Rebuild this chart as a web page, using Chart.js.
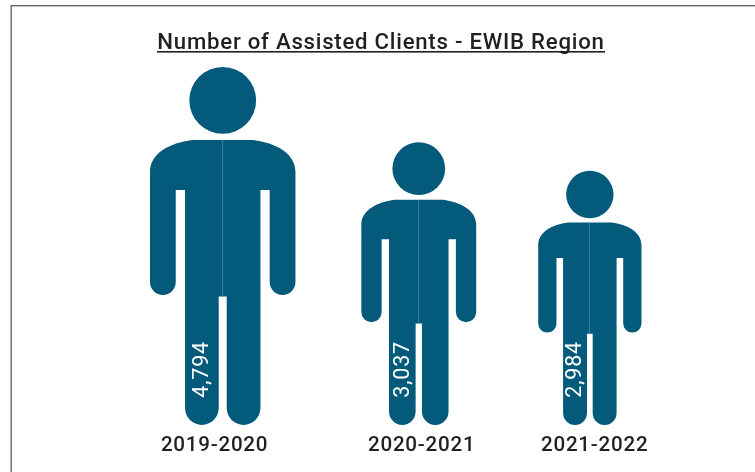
<!DOCTYPE html>
<html>
<head>
<meta charset="utf-8">
<style>html,body{margin:0;padding:0;background:#fff;overflow:hidden}canvas{display:block}</style>
<script src="https://cdn.jsdelivr.net/npm/chart.js@4/dist/chart.umd.js"></script>
</head>
<body>
<canvas id="c" width="755" height="472"></canvas>
<script>
const chartTitle = 'Number of Assisted Clients - EWIB Region';
const periods = ['2019-2020', '2020-2021', '2021-2022'];
const assistedClients = [4794, 3037, 2984];
// The figures in the picture are not drawn to a strict value scale: relative size, largest = 100
const figureSizes = [100, 79, 71];
// Uneven horizontal layout, percent of plot width
const figureSlots = [28.84, 55.05, 77.92];
const periodSlots = [27.75, 55.44, 78.57];

const INK = '#045a7b', SEAM = '#3f8099', TEXT = '#231f20', FRAME = '#666666';
const FONT = 'Roboto';

class PersonBar extends Chart.BarElement {
  draw(ctx) {
    const { x, y, base } = this.getProps(['x', 'y', 'base']);
    const u = (base - y) / 358;           // figure drawn in a 358-unit tall design space
    const X = d => x + d * u, Y = d => y + d * u;
    ctx.save();
    ctx.fillStyle = this.options.backgroundColor;
    ctx.beginPath();
    ctx.arc(x, Y(33.4), 33.4 * u, 0, Math.PI * 2);
    ctx.fill();

    const armOut = 72.75, armIn = 47, legOut = 37.7, gap = 4;
    const armR = (armOut - armIn) / 2, legR = (legOut - gap) / 2;
    const armEnd = 228, legEnd = 358, holeTop = 123, crotch = 229.7, top = 73;
    ctx.beginPath();
    ctx.moveTo(X(-30.7), Y(top));
    ctx.lineTo(X(30.7), Y(top));
    ctx.bezierCurveTo(X(52.7), Y(top + 3), X(armOut), Y(top + 13), X(armOut), Y(top + 32));
    ctx.lineTo(X(armOut), Y(armEnd - armR));
    ctx.arc(X(armOut - armR), Y(armEnd - armR), armR * u, 0, Math.PI);
    ctx.lineTo(X(armIn), Y(holeTop));
    ctx.lineTo(X(legOut), Y(holeTop));
    ctx.lineTo(X(legOut), Y(legEnd - legR));
    ctx.arc(X(legOut - legR), Y(legEnd - legR), legR * u, 0, Math.PI);
    ctx.lineTo(X(gap), Y(crotch));
    ctx.lineTo(X(-gap), Y(crotch));
    ctx.lineTo(X(-gap), Y(legEnd - legR));
    ctx.arc(X(-legOut + legR), Y(legEnd - legR), legR * u, 0, Math.PI);
    ctx.lineTo(X(-legOut), Y(holeTop));
    ctx.lineTo(X(-armIn), Y(holeTop));
    ctx.lineTo(X(-armIn), Y(armEnd - armR));
    ctx.arc(X(-armOut + armR), Y(armEnd - armR), armR * u, 0, Math.PI);
    ctx.lineTo(X(-armOut), Y(top + 32));
    ctx.bezierCurveTo(X(-armOut), Y(top + 13), X(-52.7), Y(top + 3), X(-30.7), Y(top));
    ctx.closePath();
    ctx.fill();

    ctx.strokeStyle = SEAM;
    ctx.lineWidth = 1;
    const sx = Math.round(x) + 0.5 - 1;
    ctx.beginPath();
    ctx.moveTo(sx, Y(top));
    ctx.lineTo(sx, Y(crotch));
    ctx.stroke();
    ctx.restore();
  }
}
PersonBar.id = 'personBar';
PersonBar.defaults = Chart.BarElement.defaults;

class PersonController extends Chart.BarController {}
PersonController.id = 'person';
PersonController.defaults = Object.assign({}, Chart.BarController.defaults, { dataElementType: 'personBar' });
PersonController.overrides = Chart.BarController.overrides;
Chart.register(PersonBar, PersonController);

const frameAndText = {
  id: 'frameAndText',
  beforeDraw(chart) {
    const { ctx, width, height } = chart;
    ctx.fillStyle = '#fff';
    ctx.fillRect(0, 0, width, height);
    ctx.fillStyle = FRAME;
    ctx.fillRect(11, 5, width - 11, 1.4);
    ctx.fillRect(10.5, 5, 1.4, height - 5);
    ctx.letterSpacing = '0.75px';
  },
  afterDatasetsDraw(chart) {
    const { ctx } = chart;
    const meta = chart.getDatasetMeta(0);
    ctx.save();
    ctx.fillStyle = '#fff';
    ctx.font = '21.5px ' + FONT;
    ctx.letterSpacing = '0.8px';
    ctx.textAlign = 'center';
    ctx.textBaseline = 'middle';
    meta.data.forEach((bar, i) => {
      const u = (bar.base - bar.y) / 358;
      ctx.save();
      ctx.translate(bar.x - 20.85 * u, bar.base - 55.5);
      ctx.rotate(-Math.PI / 2);
      ctx.fillText(assistedClients[i].toLocaleString('en-US'), 0, 1);
      ctx.restore();
    });
    ctx.restore();
  },
  afterDraw(chart) {
    const { ctx } = chart;
    const t = chart.titleBlock;
    ctx.save();
    const cx = (t.left + t.right) / 2;
    ctx.fillStyle = TEXT;
    ctx.fillRect(cx - 224, 51, 448, 1.6);
    ctx.restore();
  }
};

new Chart(document.getElementById('c'), {
  type: 'person',
  data: {
    datasets: [{
      label: 'Number of Assisted Clients',
      data: figureSlots.map((x, i) => ({ x, y: figureSizes[i] })),
      backgroundColor: INK
    }]
  },
  plugins: [frameAndText],
  options: {
    responsive: false,
    animation: false,
    layout: { padding: { left: 7, right: 0, top: 0, bottom: 4.4 } },
    plugins: {
      legend: { display: false },
      tooltip: { enabled: false },
      title: {
        display: true,
        text: chartTitle,
        color: TEXT,
        font: { family: FONT, size: 22.2, weight: '500', lineHeight: 1.2 },
        padding: { top: 30, bottom: 10.36 }
      }
    },
    scales: {
      x: {
        type: 'linear',
        offset: false,
        min: 0,
        max: 100,
        grid: { display: false, drawTicks: false, offset: false },
        border: { display: false },
        afterBuildTicks(axis) { axis.ticks = periodSlots.map(value => ({ value })); },
        ticks: {
          autoSkip: false,
          maxRotation: 0,
          color: TEXT,
          padding: 9,
          font: { family: FONT, size: 20.6, weight: '500' },
          callback: (v, i) => periods[i]
        }
      },
      y: { display: false, min: 0, max: 100 }
    }
  }
});
</script>
</body>
</html>
